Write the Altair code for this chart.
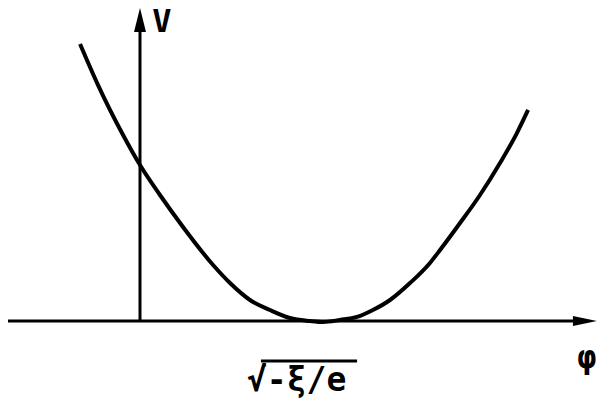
import altair as alt
import pandas as pd

# curve V(phi) (phi: 0 at V-axis, 1 at minimum)
px = [80, 98, 123, 140, 160, 183, 213, 230, 250, 270, 290, 310, 323, 340,
      357, 373, 390, 410, 430, 440, 460, 480, 500, 517, 528]
py = [44, 85, 135, 165, 195, 227, 265, 283, 300, 310, 318, 321, 322, 320,
      317, 310, 300, 283, 263, 250, 223, 195, 163, 133, 110]
phi = [round((a - 140) / 180, 3) for a in px]
V = [round((321 - b) / 150, 3) for b in py]

# axis extents
x_dom = [-0.7333, 2.5778]
y_dom = [-0.5467, 2.0867]
h_axis_end = 2.406
v_axis_end = 1.927
h_arrow_center = 2.472
v_arrow_center = 2.007

labels = ["V", "φ", "√-ξ/e"]
label_x = [0.122, 2.483, 0.594]
label_y = [1.927, -0.313, -0.467]
label_align = ["center", "center", "left"]
sizes = [32, 32, 33]
overline_x = [0.672, 1.206]
overline_y = -0.267

xs = alt.Scale(domain=x_dom, nice=False, zero=False)
ys = alt.Scale(domain=y_dom, nice=False, zero=False)

curve_df = pd.DataFrame({"phi": phi, "V": V})
curve = alt.Chart(curve_df).mark_line(
    color="black", strokeWidth=4, interpolate="monotone"
).encode(
    x=alt.X("phi:Q", scale=xs, axis=None),
    y=alt.Y("V:Q", scale=ys, axis=None),
)

haxis = alt.Chart(pd.DataFrame({"x": [x_dom[0]], "x2": [h_axis_end], "y": [0.0]})).mark_rule(
    color="black", strokeWidth=3
).encode(x=alt.X("x:Q", scale=xs, axis=None), x2="x2:Q", y=alt.Y("y:Q", scale=ys, axis=None))

vaxis = alt.Chart(pd.DataFrame({"x": [0.0], "y": [0.0], "y2": [v_axis_end]})).mark_rule(
    color="black", strokeWidth=3
).encode(x=alt.X("x:Q", scale=xs, axis=None), y=alt.Y("y:Q", scale=ys, axis=None), y2="y2:Q")

harrow = alt.Chart(pd.DataFrame({"x": [h_arrow_center], "y": [0.0]})).mark_point(
    shape="M-1,-0.42L1,0L-1,0.42Z", size=576, filled=True, color="black", opacity=1
).encode(x=alt.X("x:Q", scale=xs, axis=None), y=alt.Y("y:Q", scale=ys, axis=None))

varrow = alt.Chart(pd.DataFrame({"x": [0.0], "y": [v_arrow_center]})).mark_point(
    shape="M-0.5,1L0,-1L0.5,1Z", size=576, filled=True, color="black", opacity=1
).encode(x=alt.X("x:Q", scale=xs, axis=None), y=alt.Y("y:Q", scale=ys, axis=None))

lab_df = pd.DataFrame({"t": labels, "x": label_x, "y": label_y})
texts = []
for i in range(len(labels)):
    texts.append(
        alt.Chart(lab_df.iloc[[i]]).mark_text(
            font="DejaVu Sans Mono", fontSize=sizes[i], fontWeight="bold",
            align=label_align[i], baseline="alphabetic", color="black"
        ).encode(x=alt.X("x:Q", scale=xs, axis=None), y=alt.Y("y:Q", scale=ys, axis=None), text="t:N")
    )

overline = alt.Chart(pd.DataFrame({"x": [overline_x[0]], "x2": [overline_x[1]], "y": [overline_y]})).mark_rule(
    color="black", strokeWidth=3
).encode(x=alt.X("x:Q", scale=xs, axis=None), x2="x2:Q", y=alt.Y("y:Q", scale=ys, axis=None))

chart = alt.layer(haxis, vaxis, harrow, varrow, curve, overline, *texts).properties(
    width=596, height=395, padding=0, autosize=alt.AutoSizeParams(type="none")
).configure_view(stroke=None)

chart.save("out.html", embed_options={"renderer": "svg", "actions": False})
